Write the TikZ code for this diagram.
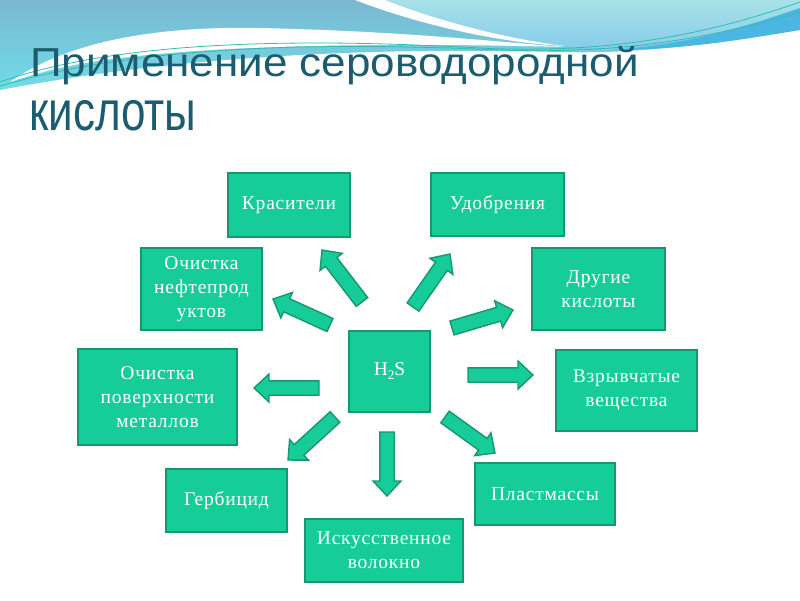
\documentclass[tikz,border=0pt]{standalone}
\usepackage{graphicx}
\usepackage{fontspec}
\setmainfont{Liberation Serif}
\newfontfamily\titlefont{Liberation Sans}
\newfontfamily\boxfont[LetterSpace=4]{Liberation Serif}
\usetikzlibrary{calc}

\definecolor{boxgreen}{RGB}{22,204,152}
\definecolor{boxline}{RGB}{24,150,112}
\definecolor{titleteal}{RGB}{28,92,112}
\definecolor{steelband}{RGB}{122,184,208}
\definecolor{cyanband}{RGB}{112,220,232}
\definecolor{lightband}{RGB}{168,226,230}
\definecolor{skyband}{RGB}{135,204,236}
\definecolor{stripeblue}{RGB}{75,182,226}
\definecolor{waveteal}{RGB}{50,190,170}

\tikzset{
  usebox/.style={draw=boxline, line width=1.5pt, fill=boxgreen, text=white,
    font=\boxfont\fontsize{19.5}{24}\selectfont, align=center, inner sep=0pt},
  arrowbox/.style={draw=boxline, line width=1.4pt, fill=boxgreen, line join=miter},
  waveline/.style={draw=waveteal, line width=0.8pt},
}

% block arrow from tail #1 to tip #2
\newcommand\blockarrow[2]{%
  \coordinate (ab) at ($(#2)!15pt!(#1)$);
  \draw[arrowbox] ($(#1)!7.2pt!90:(#2)$) -- ($(ab)!7.2pt!90:(#2)$)
    -- ($(ab)!14pt!90:(#2)$) -- (#2) -- ($(ab)!14pt!-90:(#2)$)
    -- ($(ab)!7.2pt!-90:(#2)$) -- ($(#1)!7.2pt!-90:(#2)$) -- cycle;}

\begin{document}
\begin{tikzpicture}[x=1pt,y=-1pt]
  \useasboundingbox (0,0) rectangle (800,600);
  \fill[white] (0,0) rectangle (800,600);

  % waves at the top
  \shade[top color=steelband, bottom color=cyanband]
    (0,0) -- (800,0) -- (800,22) .. controls (720,45) and (640,54) .. (560,52)
    .. controls (400,48) and (200,52) .. (0,90) -- cycle;
  \shade[top color=lightband, bottom color=skyband]
    (385,0) -- (800,0) -- (800,10) .. controls (740,30) and (680,45) .. (610,48)
    .. controls (585,48) and (572,47) .. (565,46)
    .. controls (500,38) and (430,18) .. (385,0) -- cycle;
  \fill[white] (355,0) -- (385,0) .. controls (430,18) and (500,38) .. (565,46)
    .. controls (500,43) and (420,25) .. (355,0) -- cycle;
  \fill[stripeblue] (610,50) .. controls (690,45) and (750,25) .. (800,8)
    -- (800,30) .. controls (740,40) and (680,50) .. (610,50) -- cycle;
  \fill[white] (10,82) .. controls (70,40) and (160,26) .. (260,28)
    .. controls (400,31) and (500,42) .. (565,47)
    .. controls (450,44) and (250,42) .. (120,58)
    .. controls (70,64) and (40,72) .. (10,82) -- cycle;
  \draw[waveline] (0,82) .. controls (120,40) and (300,38) .. (480,48)
    .. controls (620,55) and (720,30) .. (800,2);
  \draw[waveline] (0,86) .. controls (140,45) and (320,42) .. (500,50)
    .. controls (640,55) and (730,32) .. (800,12);

  % title
  \node[anchor=base west, inner sep=0pt, text=titleteal,
    font=\titlefont\fontsize{44}{50}\selectfont] (T1) at (30,76)
    {\scalebox{1}[0.92]{Применение сероводородной}};
  \node[anchor=base west, inner sep=0pt, text=titleteal,
    font=\titlefont\fontsize{44}{50}\selectfont] (T2) at (29,130)
    {\scalebox{1}[1.27]{кислоты}};

  % boxes
  \path
  (389.5,371.5) node[usebox, minimum width=81pt, minimum height=81pt] (H)
    {H\raisebox{-0.45ex}{\fontsize{13}{13}\selectfont 2}S}
  (289,205) node[usebox, minimum width=122pt, minimum height=64pt] (K) {Красители}
  (497.5,204.5) node[usebox, minimum width=133pt, minimum height=63pt] (U) {Удобрения}
  (201.5,289) node[usebox, minimum width=121pt, minimum height=82pt] (N)
    {Очистка\\нефтепрод\\уктов}
  (598.5,289) node[usebox, minimum width=133pt, minimum height=82pt] (D)
    {Другие\\кислоты}
  (157.5,397) node[usebox, minimum width=159pt, minimum height=96pt] (P)
    {Очистка\\поверхности\\металлов}
  (626.5,390.5) node[usebox, minimum width=141pt, minimum height=81pt] (V)
    {Взрывчатые\\вещества}
  (226.5,500.5) node[usebox, minimum width=121pt, minimum height=63pt] (G) {Гербицид}
  (545,494) node[usebox, minimum width=140pt, minimum height=62pt] (L) {Пластмассы}
  (384,550.5) node[usebox, minimum width=158pt, minimum height=63pt] (I)
    {Искусственное\\волокно};

  % arrow ends
  \coordinate (Kt) at (362,302); \coordinate (Kh) at (322,250);
  \coordinate (Nt) at (330,325); \coordinate (Nh) at (273,299);
  \coordinate (Ut) at (413,307); \coordinate (Uh) at (450,254);
  \coordinate (Dt) at (452,328); \coordinate (Dh) at (513,310);
  \coordinate (Vt) at (468,375); \coordinate (Vh) at (533,375);
  \coordinate (Pt) at (319,388); \coordinate (Ph) at (254,388);
  \coordinate (Gt) at (335,417); \coordinate (Gh) at (288,460);
  \coordinate (It) at (387,432); \coordinate (Ih) at (387,496);
  \coordinate (Lt) at (445,417); \coordinate (Lh) at (495,453);

  \blockarrow{Kt}{Kh}
  \blockarrow{Nt}{Nh}
  \blockarrow{Ut}{Uh}
  \blockarrow{Dt}{Dh}
  \blockarrow{Vt}{Vh}
  \blockarrow{Pt}{Ph}
  \blockarrow{Gt}{Gh}
  \blockarrow{It}{Ih}
  \blockarrow{Lt}{Lh}
\end{tikzpicture}
\end{document}
